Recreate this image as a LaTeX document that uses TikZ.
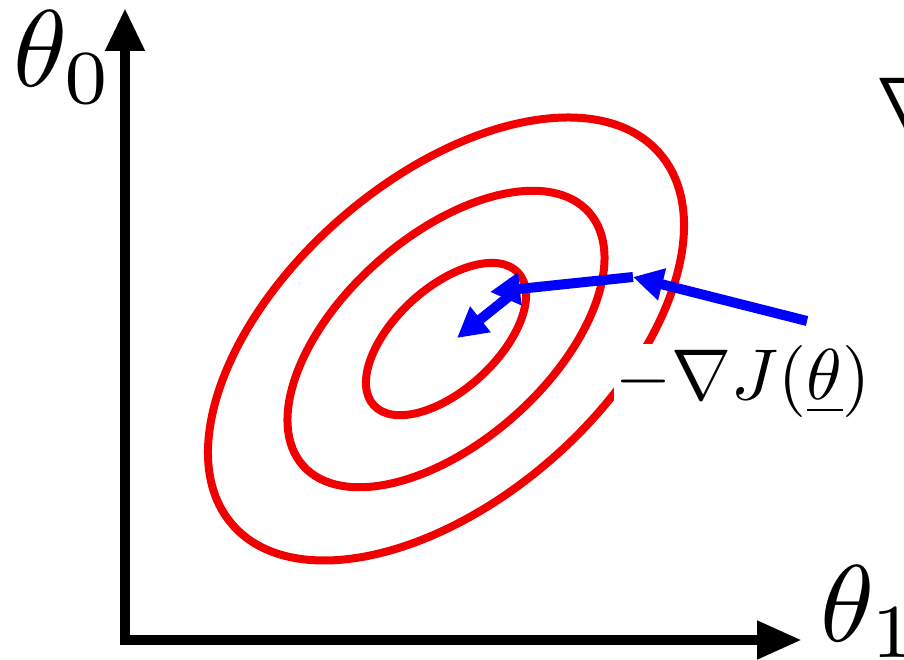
\documentclass[tikz,border=0pt]{standalone}
\usetikzlibrary{arrows.meta}
\definecolor{cred}{RGB}{240,0,0}
\definecolor{cblue}{RGB}{0,0,255}
\tikzset{
  contour/.style={draw=cred, line width=8pt},
  axisline/.style={draw=black, line width=10.5pt, line join=miter},
  gradarrow/.style={draw=cblue, line width=10pt, -{Triangle[length=30pt,width=31pt]}},
  bigmath/.style={inner sep=0pt, scale=10.9},
  midmath/.style={inner sep=0pt, scale=7.2},
}
\begin{document}
\begin{tikzpicture}[x=1pt,y=1pt]
\useasboundingbox (0,0) rectangle (904,659);
\clip (0,0) rectangle (904,659);
% contour ellipses
\coordinate (c) at (446,320);
\draw[contour, rotate around={41:(c)}] (c) ellipse [x radius=283pt, y radius=160pt];
\draw[contour, rotate around={41.5:(c)}] (c) ellipse [x radius=191pt, y radius=103pt];
\draw[contour, rotate around={42.5:(c)}] (c) ellipse [x radius=98pt, y radius=51pt];
% label with white background
\node[midmath, anchor=north west, fill=white, inner sep=0.2pt] (lab) at (613,316) {$-\nabla J(\underline{\theta})$};
% top-right cut-off formula
\node[midmath, anchor=base west] (nab) at (875,531) {$\nabla$};
% axes
\coordinate (ytip) at (125,651);
\coordinate (orig) at (125,19);
\coordinate (xtip) at (802,19);
\draw[axisline, {Triangle[length=43pt,width=37pt]}-{Triangle[length=45pt,width=36pt]}] (ytip) -- (orig) -- (xtip);
\node[bigmath, anchor=base west] (t0) at (11,572) {$\theta_0$};
\node[bigmath, anchor=base west] (t1) at (818,18) {$\theta_1$};
% gradient steps
\coordinate (p0) at (807,338);
\coordinate (p1) at (633,382);
\coordinate (p2) at (490,367);
\coordinate (p2s) at (512,365);
\coordinate (p3) at (457,321);
\draw[gradarrow] (p0) -- (p1);
\draw[gradarrow] (p1) -- (p2);
\draw[gradarrow] (p2s) -- (p3);
\end{tikzpicture}
\end{document}
